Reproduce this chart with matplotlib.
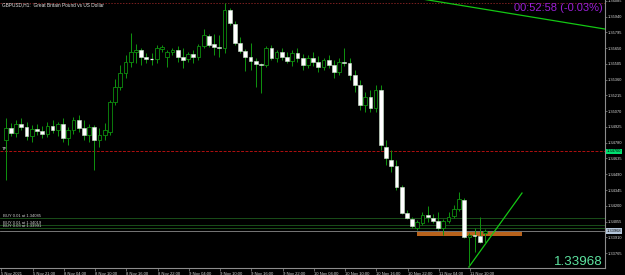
import matplotlib
matplotlib.use('Agg')
import matplotlib.pyplot as plt
from matplotlib.transforms import blended_transform_factory

plt.rcParams['font.family'] = ['Liberation Sans', 'DejaVu Sans']

# ---------------- data (GBPUSD H1) ----------------
opens = [1.34805, 1.34916, 1.34870, 1.34952, 1.34925, 1.34842, 1.34906, 1.34888, 1.34860, 1.34934,
         1.34897, 1.34952, 1.34824, 1.34897, 1.34989, 1.34916, 1.34851, 1.34925, 1.34805, 1.34851,
         1.34879, 1.35155, 1.35293, 1.35422, 1.35523, 1.35615, 1.35634, 1.35569, 1.35551, 1.35551,
         1.35643, 1.35569, 1.35615, 1.35634, 1.35569, 1.35551, 1.35597, 1.35569, 1.35671, 1.35763,
         1.35689, 1.35661, 1.35652, 1.36002, 1.35873, 1.35698, 1.35624, 1.35569, 1.35532, 1.35505,
         1.35496, 1.35652, 1.35560, 1.35615, 1.35569, 1.35532, 1.35606, 1.35560, 1.35496, 1.35560,
         1.35523, 1.35477, 1.35542, 1.35496, 1.35431, 1.35523, 1.35514, 1.35404, 1.35311, 1.35127,
         1.35201, 1.35100, 1.35265, 1.34741, 1.34621, 1.34566, 1.34372, 1.34133, 1.34078, 1.33995,
         1.34041, 1.34115, 1.34087, 1.34059, 1.33995, 1.34059, 1.34106, 1.34170, 1.34253, 1.33912,
         1.33931, 1.33921, 1.33949]
highs = [1.35008, 1.34962, 1.34989, 1.35008, 1.34971, 1.34943, 1.34952, 1.34934, 1.34971, 1.34989,
         1.34971, 1.35008, 1.34925, 1.35017, 1.35035, 1.34989, 1.34952, 1.34943, 1.34916, 1.34962,
         1.35173, 1.35367, 1.35496, 1.35588, 1.35790, 1.35689, 1.35652, 1.35606, 1.35606, 1.35680,
         1.35680, 1.35634, 1.35652, 1.35671, 1.35652, 1.35615, 1.35634, 1.35689, 1.35827, 1.35781,
         1.35781, 1.35772, 1.36066, 1.36020, 1.35901, 1.35753, 1.35643, 1.35698, 1.35560, 1.35514,
         1.35671, 1.35680, 1.35634, 1.35652, 1.35615, 1.35634, 1.35652, 1.35597, 1.35588, 1.35615,
         1.35578, 1.35560, 1.35588, 1.35542, 1.35560, 1.35652, 1.35560, 1.35450, 1.35358, 1.35247,
         1.35265, 1.35311, 1.35311, 1.34805, 1.34713, 1.34621, 1.34391, 1.34161, 1.34096, 1.34069,
         1.34142, 1.34198, 1.34124, 1.34142, 1.34078, 1.34142, 1.34207, 1.34326, 1.34271, 1.33949,
         1.33995, 1.34096, 1.33986]
lows = [1.34437, 1.34842, 1.34833, 1.34897, 1.34805, 1.34787, 1.34851, 1.34824, 1.34833, 1.34870,
        1.34842, 1.34787, 1.34759, 1.34860, 1.34879, 1.34805, 1.34787, 1.34529, 1.34741, 1.34805,
        1.34851, 1.35127, 1.35265, 1.35376, 1.35477, 1.35514, 1.35496, 1.35514, 1.35496, 1.35514,
        1.35615, 1.35477, 1.35588, 1.35523, 1.35468, 1.35523, 1.35514, 1.35542, 1.35652, 1.35661,
        1.35588, 1.35569, 1.35606, 1.35864, 1.35680, 1.35606, 1.35440, 1.35450, 1.35293, 1.35238,
        1.35477, 1.35542, 1.35523, 1.35542, 1.35514, 1.35486, 1.35523, 1.35450, 1.35468, 1.35486,
        1.35431, 1.35450, 1.35468, 1.35376, 1.35404, 1.35486, 1.35358, 1.35247, 1.35081, 1.35063,
        1.35063, 1.35063, 1.34713, 1.34575, 1.34511, 1.34345, 1.34124, 1.34078, 1.33995, 1.33977,
        1.34023, 1.34050, 1.34041, 1.33977, 1.33931, 1.34041, 1.34087, 1.34152, 1.33903, 1.33636,
        1.33774, 1.33857, 1.33857]
closes = [1.34916, 1.34870, 1.34952, 1.34925, 1.34842, 1.34906, 1.34888, 1.34860, 1.34934, 1.34897,
          1.34952, 1.34824, 1.34897, 1.34989, 1.34916, 1.34851, 1.34925, 1.34805, 1.34851, 1.34897,
          1.35155, 1.35293, 1.35422, 1.35523, 1.35615, 1.35634, 1.35569, 1.35551, 1.35551, 1.35652,
          1.35661, 1.35615, 1.35634, 1.35569, 1.35542, 1.35597, 1.35569, 1.35671, 1.35772, 1.35680,
          1.35661, 1.35652, 1.36002, 1.35882, 1.35698, 1.35624, 1.35569, 1.35532, 1.35505, 1.35496,
          1.35652, 1.35560, 1.35615, 1.35569, 1.35532, 1.35606, 1.35560, 1.35496, 1.35560, 1.35523,
          1.35477, 1.35542, 1.35496, 1.35431, 1.35523, 1.35514, 1.35404, 1.35311, 1.35127, 1.35201,
          1.35100, 1.35265, 1.34759, 1.34639, 1.34566, 1.34372, 1.34133, 1.34087, 1.34014, 1.34050,
          1.34115, 1.34096, 1.34059, 1.33995, 1.34059, 1.34096, 1.34170, 1.34262, 1.33912, 1.33931,
          1.33921, 1.33866, 1.33968]

time_labels = ["5 Nov 2021", "5 Nov 21:00", "8 Nov 04:00", "8 Nov 10:00", "8 Nov 16:00",
               "8 Nov 22:00", "9 Nov 04:00", "9 Nov 10:00", "9 Nov 16:00", "9 Nov 22:00",
               "10 Nov 04:00", "10 Nov 10:00", "10 Nov 16:00", "10 Nov 22:00", "11 Nov 04:00",
               "11 Nov 10:00"]
label_bars = [0, 6, 12, 18, 24, 30, 36, 42, 48, 54, 60, 66, 72, 78, 84, 90]

price_ticks = [1.36085, 1.35940, 1.35795, 1.35650, 1.35505, 1.35360, 1.35215, 1.35070, 1.34925,
               1.34780, 1.34635, 1.34490, 1.34345, 1.34200, 1.34055, 1.33910, 1.33765]

buy_levels = [1.34085, 1.34019, 1.33991]
buy_texts = ["BUY 0.01 at 1.34085", "BUY 0.01 at 1.34019", "BUY 0.03 at 1.33991"]
tp_level = 1.34700
bid_price = 1.33968
top_level = 1.36066
zone_x = [78.9, 99.1]
zone_y = [1.33924, 1.33961]
trend1_x = [75.0, 116.0]
trend1_y = [1.36142, 1.35819]
trend2_x = [88.9, 99.1]
trend2_y = [1.33636, 1.34317]

title = "GBPUSD,H1:  Great Britain Pound vs US Dollar"
timer_text = "00:52:58 (-0.03%)"

# ---------------- figure ----------------
W, H = 625, 275
fig = plt.figure(figsize=(W / 100, H / 100), dpi=100, facecolor='black')
ax = fig.add_axes([0, 7 / H, 605 / W, 268 / H], facecolor='black')
ax.set_xlim(-1.094, 115.03)
ax.set_ylim(1.33627, 1.36094)

for s in ['top', 'left']:
    ax.spines[s].set_visible(False)
for s in ['right', 'bottom']:
    ax.spines[s].set_color('#8c8c8c')
    ax.spines[s].set_linewidth(0.8)

# horizontal levels
ax.axhline(top_level, color='#7a1f1f', lw=0.7, ls=(0, (1.5, 1.5)), zorder=1)
ax.axhline(tp_level, color='#b01010', lw=0.7, ls=(0, (3, 1.5)), zorder=1)
for lv in buy_levels:
    ax.axhline(lv, color='#1d5a1d', lw=0.6, zorder=1)
ax.axhline(bid_price, color='#8a8a8a', lw=0.6, zorder=1)

# orange zone
ax.fill_between(zone_x, zone_y[0], zone_y[1], color='#b8621b', lw=0, zorder=2)

# trend lines
ax.plot(trend1_x, trend1_y, color='#14c814', lw=0.9, zorder=3)
ax.plot(trend2_x, trend2_y, color='#14c814', lw=0.9, zorder=3)

# candles
green = '#0e8f0e'
idx = list(range(len(opens)))
ax.vlines(idx, lows, highs, color=green, lw=0.72, zorder=4)
for i, o, c in zip(idx, opens, closes):
    lo, hi = min(o, c), max(o, c)
    if hi - lo < 0.00004:
        ax.hlines((o + c) / 2, i - 0.35, i + 0.35, color='#ffffff' if c <= o else green, lw=0.9, zorder=5)
        continue
    if c > o:
        ax.bar(i, hi - lo, bottom=lo, width=0.72, color='black', edgecolor=green, lw=0.6, zorder=5)
    else:
        ax.bar(i, hi - lo, bottom=lo, width=0.72, color='white', edgecolor='#cfe8cf', lw=0.4, zorder=5)

# axes ticks
ax.yaxis.tick_right()
ax.set_yticks(price_ticks)
ax.set_yticklabels([f"{v:.5f}" for v in price_ticks])
ax.tick_params(axis='y', colors='#8c8c8c', labelcolor='#d8d8d8', labelsize=2.9,
               length=1.5, width=0.5, pad=0.8)
ax.set_xticks([b - 0.85 for b in label_bars])
ax.set_xticklabels(time_labels, ha='left')
ax.tick_params(axis='x', colors='#8c8c8c', labelcolor='#d8d8d8', labelsize=3.0,
               length=2, width=0.5, pad=1)

# right-axis highlighted labels
tr = blended_transform_factory(ax.transAxes, ax.transData)
ax.text(1.003, tp_level, f"{tp_level:.5f}", transform=tr, fontsize=2.9, color='black',
        va='center', ha='left', clip_on=False,
        bbox=dict(facecolor='#00e070', edgecolor='none', pad=0.6), zorder=10)
ax.text(1.003, bid_price, f"{bid_price:.5f}", transform=tr, fontsize=2.9, color='black',
        va='center', ha='left', clip_on=False,
        bbox=dict(facecolor='#b4c6da', edgecolor='none', pad=0.6), zorder=10)

# texts
ax.text(-0.7, tp_level + 0.00003, "TP", fontsize=3.2, color='#e0e0e0', va='bottom', ha='left')
for lv, t in zip(buy_levels, buy_texts):
    ax.text(-0.52, lv + 0.00002, t, fontsize=3.0, color='#d0d0d0', va='bottom', ha='left')

fig.text(2 / W, 1 - 5 / H, title, fontsize=3.4, color='#e6e6e6', va='center', ha='left')
fig.text(603 / W, 1 - 8 / H, timer_text, fontsize=8, color='#9a1fd6', va='center', ha='right')
fig.text(603 / W, 1 - 265 / H, f"{bid_price:.5f}", fontsize=9.6, color='#5de3a0',
         va='baseline', ha='right')

fig.savefig('out.png', dpi=100, facecolor='black')
